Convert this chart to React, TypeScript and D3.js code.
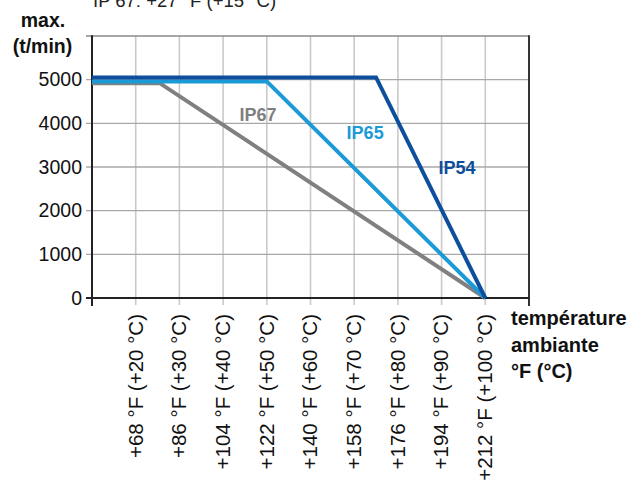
import React from "react";
import * as d3 from "d3";

const yTicks = [0, 1000, 2000, 3000, 4000, 5000];
const xTicksC = [20, 30, 40, 50, 60, 70, 80, 90, 100];
const xTickLabels = [
  "+68 °F (+20 °C)",
  "+86 °F (+30 °C)",
  "+104 °F (+40 °C)",
  "+122 °F (+50 °C)",
  "+140 °F (+60 °C)",
  "+158 °F (+70 °C)",
  "+176 °F (+80 °C)",
  "+194 °F (+90 °C)",
  "+212 °F (+100 °C)",
];

const ip67Temps = [10, 25.5, 100];
const ip67Values = [4920, 4920, 0];
const ip65Temps = [10, 50, 100];
const ip65Values = [4960, 4960, 0];
const ip54Temps = [10, 75, 100];
const ip54Values = [5050, 5050, 0];

const seriesNames = ["IP67", "IP65", "IP54"];
const seriesColors = ["#808080", "#1b9ad7", "#0d4f9c"];

const W = 633;
const H = 484;
const FONT = "'Liberation Sans', Arial, Helvetica, sans-serif";

export default function App() {
  const left = 92, right = 529, top = 36, bottom = 298;
  const x = d3.scaleLinear().domain([10, 110]).range([left, right]);
  const y = d3.scaleLinear().domain([0, 6000]).range([bottom, top]);
  const line = d3
    .line<[number, number]>()
    .x((d) => x(d[0]))
    .y((d) => y(d[1]));

  const series = [
    { t: ip67Temps, v: ip67Values },
    { t: ip65Temps, v: ip65Values },
    { t: ip54Temps, v: ip54Values },
  ];
  const labelPos = [
    { t: 48, val: 4050, c: seriesColors[0] },
    { t: 72.5, val: 3640, c: seriesColors[1] },
    { t: 93.5, val: 2850, c: seriesColors[2] },
  ];

  return (
    <div style={{ position: "fixed", left: 0, top: 0 }}>
      <svg width={W} height={H} style={{ display: "block", fontFamily: FONT }}>
        <rect width={W} height={H} fill="#fff" />
        <text x={93} y={7} fontSize={18.5} fill="#222">
          IP 67: +27 °F (+15 °C)
        </text>
        {/* vertical grid */}
        {xTicksC.map((c) => (
          <line key={"v" + c} x1={x(c)} x2={x(c)} y1={top} y2={305} stroke="#cacaca" strokeWidth={1.6} />
        ))}
        {/* horizontal grid */}
        {yTicks.slice(1).map((v) => (
          <line key={"h" + v} x1={86} x2={right} y1={y(v)} y2={y(v)} stroke="#a8a8a8" strokeWidth={1.3} />
        ))}
        {/* top border */}
        <line x1={86} x2={right} y1={y(6000)} y2={y(6000)} stroke="#8a8a8a" strokeWidth={1.6} />
        {/* right border */}
        <line x1={right} x2={right} y1={top - 0.8} y2={306} stroke="#333" strokeWidth={2} />
        {/* left axis */}
        <line x1={left} x2={left} y1={top - 0.8} y2={306} stroke="#222" strokeWidth={2} />
        {/* bottom axis */}
        <line x1={86} x2={right} y1={y(0)} y2={y(0)} stroke="#222" strokeWidth={2} />

        {series.map((s, i) => (
          <path
            key={seriesNames[i]}
            d={line(s.t.map((t, j) => [t, s.v[j]] as [number, number])) || ""}
            fill="none"
            stroke={seriesColors[i]}
            strokeWidth={4}
            strokeLinejoin="miter"
          />
        ))}

        {labelPos.map((p, i) => (
          <text
            key={"l" + i}
            x={x(p.t)}
            y={y(p.val)}
            fill={p.c}
            fontSize={18}
            fontWeight="bold"
            textAnchor="middle"
          >
            {seriesNames[i]}
          </text>
        ))}

        {yTicks.map((v) => (
          <text key={"yt" + v} x={82} y={y(v) + 6.8} fontSize={19.5} textAnchor="end" fill="#111">
            {v}
          </text>
        ))}

        {xTicksC.map((c, i) => (
          <text
            key={"xt" + c}
            transform={`translate(${x(c) + 6.8},314) rotate(-90)`}
            fontSize={20.5}
            textAnchor="end"
            fill="#111"
          >
            {xTickLabels[i]}
          </text>
        ))}

        <text x={43} y={26.5} fontSize={19.5} fontWeight="bold" textAnchor="middle" fill="#111">
          max.
        </text>
        <text x={42.5} y={52.5} fontSize={19.5} fontWeight="bold" textAnchor="middle" fill="#111">
          (t/min)
        </text>

        <text x={511} y={325} fontSize={20} fontWeight="bold" fill="#111">
          température
        </text>
        <text x={511} y={352} fontSize={20} fontWeight="bold" fill="#111">
          ambiante
        </text>
        <text x={511} y={378} fontSize={20} fontWeight="bold" fill="#111">
          °F (°C)
        </text>
      </svg>
    </div>
  );
}
